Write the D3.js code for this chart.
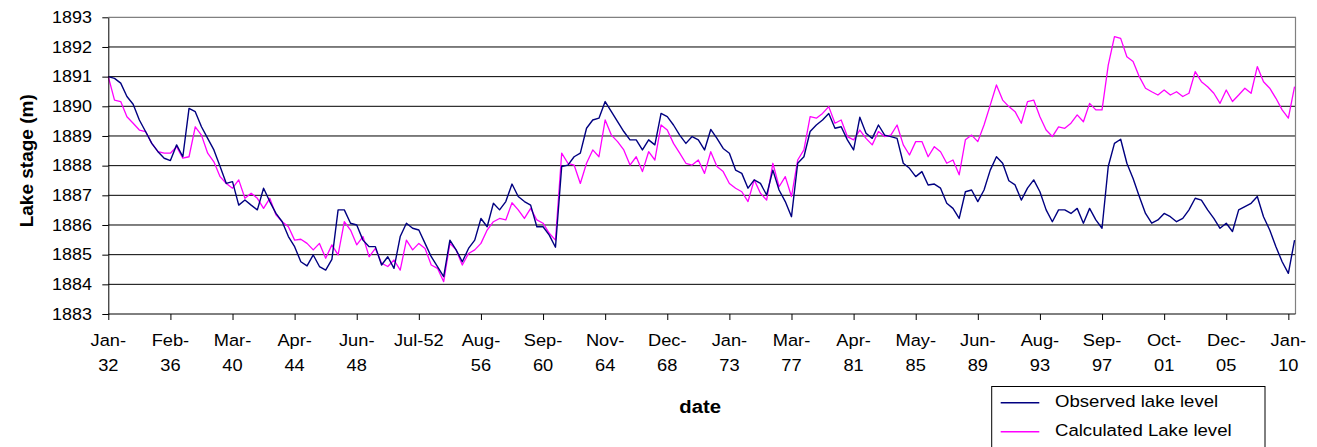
<!DOCTYPE html>
<html><head><meta charset="utf-8">
<script src="https://cdn.jsdelivr.net/npm/d3@7"></script>
<style>
body{margin:0;background:#fff}
svg{display:block}
text{font-family:Arial,"Liberation Sans",sans-serif;fill:#000}
</style>
</head><body>
<svg id="c" width="1317" height="447"></svg>
<script>
// ---------- data ----------
const tickLabels = ["Jan-32","Feb-36","Mar-40","Apr-44","Jun-48","Jul-52","Aug-56","Sep-60","Nov-64","Dec-68",
  "Jan-73","Mar-77","Apr-81","May-85","Jun-89","Aug-93","Sep-97","Oct-01","Dec-05","Jan-10"];
const singleLineLabels = ["Jul-52"];
const pointsPerTick = 10;
const yTicks = [1883,1884,1885,1886,1887,1888,1889,1890,1891,1892,1893];

const observed = [
1891.00,1890.94,1890.78,1890.33,1890.07,1889.54,1889.15,1888.75,1888.47,1888.25,
1888.17,1888.70,1888.30,1889.93,1889.82,1889.31,1888.92,1888.53,1887.97,1887.40,
1887.46,1886.67,1886.84,1886.67,1886.51,1887.24,1886.79,1886.39,1886.11,1885.61,
1885.27,1884.76,1884.62,1884.99,1884.60,1884.48,1884.84,1886.51,1886.51,1886.06,
1886.00,1885.49,1885.27,1885.27,1884.65,1884.93,1884.54,1885.61,1886.06,1885.89,
1885.83,1885.38,1884.93,1884.60,1884.26,1885.49,1885.16,1884.76,1885.21,1885.49,
1886.22,1885.94,1886.73,1886.51,1886.79,1887.38,1886.96,1886.79,1886.67,1885.94,
1885.94,1885.66,1885.25,1887.97,1888.02,1888.30,1888.42,1889.26,1889.54,1889.60,
1890.16,1889.82,1889.48,1889.15,1888.87,1888.87,1888.53,1888.87,1888.70,1889.76,
1889.65,1889.37,1889.03,1888.75,1888.98,1888.87,1888.53,1889.22,1888.92,1888.58,
1888.42,1887.85,1887.74,1887.24,1887.52,1887.40,1887.01,1887.85,1887.18,1886.79,
1886.28,1888.08,1888.30,1889.15,1889.37,1889.54,1889.76,1889.26,1889.31,1888.87,
1888.53,1889.63,1889.09,1888.92,1889.37,1889.03,1888.98,1888.92,1888.08,1887.91,
1887.63,1887.80,1887.35,1887.38,1887.24,1886.73,1886.56,1886.22,1887.12,1887.18,
1886.79,1887.18,1887.85,1888.30,1888.08,1887.49,1887.35,1886.84,1887.24,1887.52,
1887.12,1886.51,1886.11,1886.51,1886.51,1886.39,1886.56,1886.06,1886.56,1886.17,
1885.89,1887.97,1888.75,1888.89,1888.08,1887.57,1886.96,1886.39,1886.06,1886.17,
1886.39,1886.28,1886.11,1886.22,1886.51,1886.90,1886.84,1886.51,1886.22,1885.89,
1886.06,1885.78,1886.51,1886.62,1886.73,1886.96,1886.28,1885.83,1885.27,1884.76,
1884.37,1885.49
];

const calculated = [
1891.00,1890.21,1890.16,1889.65,1889.43,1889.20,1889.15,1888.75,1888.47,1888.42,
1888.42,1888.64,1888.25,1888.30,1889.31,1889.03,1888.42,1888.13,1887.63,1887.40,
1887.24,1887.52,1886.90,1887.07,1886.90,1886.56,1886.90,1886.34,1886.11,1885.94,
1885.49,1885.52,1885.38,1885.16,1885.38,1884.88,1885.33,1884.99,1886.11,1885.83,
1885.33,1885.61,1884.93,1885.21,1884.71,1884.60,1884.82,1884.48,1885.49,1885.16,
1885.38,1885.21,1884.65,1884.54,1884.09,1885.38,1885.16,1884.65,1885.04,1885.16,
1885.38,1885.83,1886.11,1886.22,1886.17,1886.75,1886.51,1886.22,1886.56,1886.17,
1886.06,1885.72,1885.49,1888.42,1888.08,1888.02,1887.40,1888.08,1888.53,1888.30,
1889.54,1889.03,1888.81,1888.53,1888.02,1888.30,1887.80,1888.47,1888.19,1889.37,
1889.20,1888.75,1888.42,1888.08,1888.02,1888.19,1887.74,1888.47,1887.97,1887.80,
1887.40,1887.24,1887.12,1886.79,1887.52,1887.07,1886.84,1888.08,1887.29,1887.63,
1886.96,1888.19,1888.53,1889.65,1889.60,1889.76,1889.99,1889.43,1889.54,1888.98,
1888.87,1889.20,1888.92,1888.70,1889.15,1888.98,1889.03,1889.37,1888.70,1888.36,
1888.81,1888.81,1888.30,1888.64,1888.47,1888.08,1888.19,1887.69,1888.87,1889.03,
1888.81,1889.37,1890.04,1890.72,1890.21,1889.99,1889.82,1889.43,1890.16,1890.21,
1889.65,1889.20,1888.98,1889.31,1889.26,1889.43,1889.71,1889.48,1890.10,1889.88,
1889.88,1891.39,1892.35,1892.29,1891.67,1891.51,1891.00,1890.61,1890.49,1890.38,
1890.55,1890.38,1890.49,1890.33,1890.44,1891.17,1890.83,1890.66,1890.44,1890.10,
1890.55,1890.16,1890.38,1890.61,1890.44,1891.34,1890.83,1890.61,1890.27,1889.88,
1889.60,1890.66
];

// ---------- layout ----------
const W = 1317, H = 447;
const L = 108.3, R = 1295.5, T = 17.3, B = 314;
const x = d3.scaleLinear().domain([0, 191.15]).range([L, R]);
const y = d3.scaleLinear().domain([1883, 1893]).range([B, T]);

const svg = d3.select("#c");
svg.append("rect").attr("width", W).attr("height", H).attr("fill", "#fff");

// gridlines
svg.append("g").selectAll("line")
  .data(yTicks.filter(d => d > 1883 && d < 1893))
  .join("line")
  .attr("x1", L).attr("x2", R)
  .attr("y1", d => y(d)).attr("y2", d => y(d))
  .attr("stroke", "#000").attr("stroke-width", 1);

// plot border (top/right)
svg.append("path")
  .attr("d", `M${L},${T}H${R}V${B}`)
  .attr("fill", "none").attr("stroke", "#808080").attr("stroke-width", 1.2);

// series
const line = d3.line().x((d, i) => x(i)).y(d => y(d));
svg.append("path").datum(calculated).attr("d", line)
  .attr("fill", "none").attr("stroke", "#FF00FF").attr("stroke-width", 1.3).attr("stroke-linejoin", "round");
svg.append("path").datum(observed).attr("d", line)
  .attr("fill", "none").attr("stroke", "#000080").attr("stroke-width", 1.4).attr("stroke-linejoin", "round");

// axes
const tickIdx = tickLabels.map((d, i) => i * pointsPerTick);
const yAxis = svg.append("g").attr("transform", `translate(${L},0)`)
  .call(d3.axisLeft(y).tickValues(yTicks).tickSize(6).tickSizeOuter(0).tickFormat(""));
const xAxis = svg.append("g").attr("transform", `translate(0,${B})`)
  .call(d3.axisBottom(x).tickValues(tickIdx).tickSize(6).tickSizeOuter(0).tickFormat(""));
[yAxis, xAxis].forEach(g => { g.selectAll("path,line").attr("stroke", "#000"); g.selectAll("text").remove(); });
xAxis.select(".domain").attr("d", `M${L},0H${R}`);

// y tick labels
svg.append("g").selectAll("text").data(yTicks).join("text")
  .attr("transform", d => `translate(92,${y(d) + 5.8}) scale(1.1,1)`)
  .attr("text-anchor", "end").attr("font-size", "16.3px").text(d => d);

// x tick labels
const xl = svg.append("g").selectAll("g").data(tickLabels).join("g");
xl.each(function (d, i) {
  const g = d3.select(this);
  const cx = x(tickIdx[i]);
  const parts = singleLineLabels.includes(d) ? [d] : [d.split("-")[0] + "-", d.split("-")[1]];
  parts.forEach((p, k) => {
    g.append("text")
      .attr("transform", `translate(${cx},${345.7 + k * 25}) scale(1.12,1)`)
      .attr("text-anchor", "middle").attr("font-size", "16.3px").text(p);
  });
});

// axis titles
svg.append("text")
  .attr("transform", "translate(33,160.8) rotate(-90)")
  .attr("text-anchor", "middle").attr("font-size", "19px").attr("font-weight", "bold")
  .text("Lake stage (m)");
svg.append("text")
  .attr("transform", "translate(700.2,413) scale(1.07,1)")
  .attr("text-anchor", "middle").attr("font-size", "19px").attr("font-weight", "bold")
  .text("date");

// legend
const legend = [
  { name: "Observed lake level", color: "#000080", y: 402.7 },
  { name: "Calculated Lake level", color: "#FF00FF", y: 431.7 }
];
svg.append("rect").attr("x", 991.7).attr("y", 386.5).attr("width", 273.3).attr("height", 80)
  .attr("fill", "#fff").attr("stroke", "#000").attr("stroke-width", 1);
const lg = svg.append("g").selectAll("g").data(legend).join("g");
lg.append("line").attr("x1", 1000.7).attr("x2", 1039.3)
  .attr("y1", d => d.y).attr("y2", d => d.y)
  .attr("stroke", d => d.color).attr("stroke-width", 1.4);
lg.append("text")
  .attr("transform", d => `translate(1055,${d.y + 4.6}) scale(1.12,1)`)
  .attr("font-size", "16.6px").text(d => d.name);
</script>
</body></html>
